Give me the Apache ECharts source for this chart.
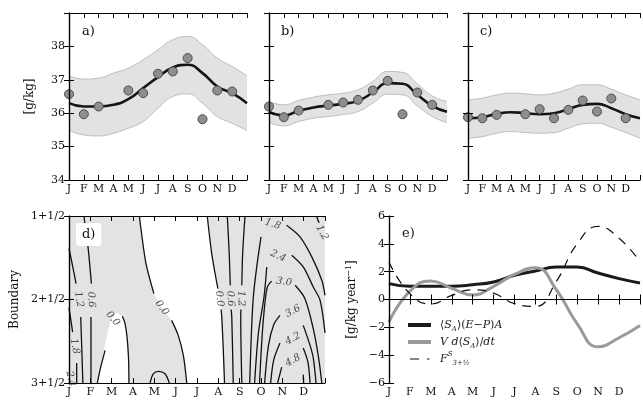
<!DOCTYPE html>
<html>
<head>
<meta charset="utf-8">
<script src="https://cdn.jsdelivr.net/npm/echarts@6/dist/echarts.min.js"></script>
<style>
  html, body { margin: 0; background: #fff; }
  #chart { width: 643px; height: 400px; }
</style>
</head>
<body>
<div id="chart"></div>
<script>
const F = 'DejaVu Serif';

// month letters and positions
const months = ['J', 'F', 'M', 'A', 'M', 'J', 'J', 'A', 'S', 'O', 'N', 'D'];
const knots = [0, 1, 2, 3, 4, 5, 6, 7, 8, 9, 10, 11, 12];
const obsMonths = [0, 1, 2, 4, 5, 6, 7, 8, 9, 10, 11];

// a) b) c) salinity [g/kg]
const aObs = [36.57, 35.97, 36.2, 36.68, 36.6, 37.18, 37.25, 37.65, 35.82, 36.68, 36.65];
const aFit = [36.3, 36.2, 36.2, 36.25, 36.42, 36.75, 37.08, 37.37, 37.45, 37.2, 36.8, 36.6, 36.3];
const aUp  = [37.12, 37.02, 37.05, 37.2, 37.35, 37.6, 37.9, 38.2, 38.3, 38.05, 37.65, 37.4, 37.12];
const aLo  = [35.48, 35.35, 35.32, 35.4, 35.55, 35.75, 36.15, 36.5, 36.58, 36.3, 35.9, 35.7, 35.48];

const bObs = [36.2, 35.88, 36.08, 36.25, 36.32, 36.4, 36.68, 36.97, 35.97, 36.62, 36.25];
const bFit = [36.04, 35.93, 36.07, 36.17, 36.23, 36.28, 36.37, 36.62, 36.9, 36.88, 36.55, 36.22, 36.04];
const bUp  = [36.35, 36.25, 36.38, 36.48, 36.55, 36.6, 36.7, 36.95, 37.25, 37.22, 36.88, 36.52, 36.35];
const bLo  = [35.72, 35.62, 35.75, 35.85, 35.9, 35.96, 36.05, 36.3, 36.57, 36.55, 36.22, 35.9, 35.72];

const cObs = [35.88, 35.85, 35.95, 35.97, 36.12, 35.85, 36.1, 36.38, 36.05, 36.44, 35.85];
const cFit = [35.85, 35.88, 35.98, 36.03, 36.0, 35.97, 36.0, 36.12, 36.25, 36.28, 36.15, 35.97, 35.85];
const cUp  = [36.4, 36.45, 36.55, 36.6, 36.58, 36.55, 36.6, 36.72, 36.85, 36.85, 36.72, 36.55, 36.4];
const cLo  = [35.25, 35.3, 35.4, 35.45, 35.42, 35.4, 35.42, 35.55, 35.68, 35.7, 35.58, 35.42, 35.25];

// d) contours, points are [month, boundary]
const bndTicks = {1.5: '1+1/2', 2.5: '2+1/2', 3.5: '3+1/2'};
const negRegions = [
  [[3.3, 1.5], [3.38, 1.67], [3.61, 2.07], [3.98, 2.43], [4.35, 2.6], [4.81, 2.75], [5.12, 2.93],
   [5.36, 3.17], [5.52, 3.5], [7.29, 3.5], [7.23, 3.09], [7.16, 2.71], [7.05, 2.47], [6.92, 2.29],
   [6.69, 1.95], [6.48, 1.5]],
  [[1.33, 3.5], [1.42, 3.4], [1.61, 3.13], [1.92, 2.77], [2.1, 2.69], [2.24, 2.66], [2.47, 2.7],
   [2.6, 2.76], [2.7, 2.89], [2.78, 3.2], [2.81, 3.5]]
];
const contourSegs = [
  // 0.0
  [[3.3, 1.5], [3.38, 1.67], [3.61, 2.07], [3.98, 2.43]],
  [[4.81, 2.75], [5.12, 2.93], [5.36, 3.17], [5.52, 3.5]],
  [[6.48, 1.5], [6.69, 1.95], [6.92, 2.29], [6.98, 2.37]],
  [[7.13, 2.62], [7.16, 2.71], [7.23, 3.09], [7.29, 3.5]],
  [[1.33, 3.5], [1.45, 3.35], [1.69, 3.11]],
  [[2.5, 2.7], [2.62, 2.78], [2.72, 2.95], [2.79, 3.2], [2.81, 3.5]],
  // -0.6
  [[3.8, 3.5], [3.95, 3.39], [4.19, 3.36], [4.5, 3.39], [4.7, 3.5]],
  // 0.6
  [[0.7, 1.5], [0.8, 1.7], [0.9, 1.89], [1.05, 2.31]],
  [[1.03, 2.71], [1.03, 3.5]],
  [[7.42, 1.5], [7.51, 1.95], [7.56, 2.33]],
  [[7.6, 2.62], [7.63, 2.71], [7.7, 3.5]],
  // 1.2
  [[0, 1.89], [0.17, 2.1], [0.33, 2.31]],
  [[0.55, 2.71], [0.6, 3.1], [0.65, 3.5]],
  [[8.25, 1.5], [8.14, 1.95], [8.1, 2.33]],
  [[8.06, 2.62], [8.05, 2.71], [8.1, 3.5]],
  [[11.6, 1.5], [11.72, 1.58]],
  // 1.8
  [[0, 2.6], [0.17, 2.89]],
  [[0.36, 3.26], [0.36, 3.5]],
  [[8.47, 3.5], [8.55, 2.9], [8.64, 2.47], [8.8, 2.11], [9.0, 1.75]],
  [[10.2, 1.61], [10.83, 1.75], [11.38, 1.99], [11.85, 2.27], [12, 2.45]],
  // 2.4
  [[8.7, 3.5], [8.88, 2.9], [9.14, 2.47], [9.27, 2.11]],
  [[10.44, 1.97], [10.98, 2.11], [11.45, 2.35], [11.77, 2.51], [12, 2.9]],
  // 3.0
  [[8.93, 3.5], [9.05, 2.95], [9.18, 2.55], [9.3, 2.35], [9.5, 2.28]],
  [[10.6, 2.33], [11.06, 2.49], [11.45, 2.85], [11.7, 3.2], [11.85, 3.5]],
  // 3.6
  [[9.17, 3.5], [9.35, 3.05], [9.6, 2.8], [9.89, 2.69]],
  [[10.98, 2.81], [11.3, 3.05], [11.45, 3.2], [11.58, 3.5]],
  // 4.2
  [[9.45, 3.5], [9.6, 3.22], [9.89, 3.02]],
  [[10.98, 3.08], [11.2, 3.25], [11.3, 3.5]],
  // 4.8
  [[9.78, 3.5], [9.97, 3.31]],
  [[10.98, 3.4], [11.0, 3.5]]
];
const contourLabels = [
  ['0.0', 4.35, 2.6, -53], ['0.0', 2.05, 2.73, -50], ['0.0', 7.05, 2.49, -85],
  ['0.6', 7.57, 2.49, -88], ['1.2', 8.07, 2.49, -88], ['1.2', 0.46, 2.5, -80],
  ['0.6', 1.04, 2.5, -88], ['1.8', 0.27, 3.06, -80], ['2.4', 0.07, 3.45, -80],
  ['1.8', 9.55, 1.6, -18], ['2.4', 9.8, 1.98, -25], ['3.0', 10.08, 2.29, -8],
  ['3.6', 10.5, 2.64, 28], ['4.2', 10.5, 2.97, 28], ['4.8', 10.5, 3.23, 28],
  ['1.2', 11.86, 1.7, -62]
];

// e) budget terms [g/kg year^-1]
const eSeaFlux = [1.14, 0.95, 0.95, 0.95, 1.06, 1.26, 1.74, 2.05, 2.33, 2.33, 1.9, 1.5, 1.19];
const eStorage = [-1.62, 0.6, 1.33, 0.8, 0.33, 0.95, 1.8, 2.28, 0.7, -1.75, -3.4, -2.75, -1.86];
const eBoundary = [2.7, 0.42, -0.32, 0.3, 0.7, 0.46, -0.3, -0.5, 1.3, 4.0, 5.25, 4.4, 2.7];

const pairs = (xs, ys) => xs.map((x, i) => [x, ys[i]]);

const grids = [
  {left: 69, top: 13, width: 178, height: 167},
  {left: 269, top: 13, width: 178, height: 167},
  {left: 468, top: 13, width: 178, height: 167},
  {left: 69, top: 216, width: 256, height: 167, show: true, backgroundColor: '#e3e3e3', borderWidth: 0},
  {left: 389, top: 216, width: 258, height: 167}
];

const lbl = {fontFamily: F, fontSize: 11, color: '#111'};
const tick = {inside: true, length: 5, lineStyle: {color: '#000', width: 1}};
const line = {show: true, lineStyle: {color: '#000', width: 1.2}};

function xAxis(g, pos) {
  return {
    type: 'value', gridIndex: g, position: pos, min: 0, max: 12, interval: 1, z: 10,
    axisLine: line, axisTick: tick, splitLine: {show: false},
    axisLabel: Object.assign({show: pos === 'bottom', margin: 4, formatter: v => months[v] || ''}, lbl)
  };
}
function yAxis(g, pos, min, max, step, fmt, extra) {
  return Object.assign({
    type: 'value', gridIndex: g, position: pos, min, max, interval: step, z: 10,
    axisLine: line, axisTick: tick, splitLine: {show: false},
    axisLabel: Object.assign({show: !!fmt, margin: 4, formatter: fmt}, lbl)
  }, extra || {});
}

const xAxes = [0, 1, 2, 3, 4].map(g => xAxis(g, 'bottom')).concat([0, 1, 2, 3, 4].map(g => xAxis(g, 'top')));
const nameStyle = {fontFamily: F, fontSize: 12, color: '#111'};
const yAxes = [
  yAxis(0, 'left', 34, 39, 1, v => v === 39 ? '' : String(v),
    {name: '[g/kg]', nameLocation: 'middle', nameGap: 33, nameRotate: 90, nameTextStyle: nameStyle}),
  yAxis(1, 'left', 34, 39, 1, null),
  yAxis(2, 'left', 34, 39, 1, null),
  yAxis(3, 'left', 1.5, 3.5, 1, v => bndTicks[v] || '',
    {inverse: true, name: 'Boundary', nameLocation: 'middle', nameGap: 48, nameRotate: 90, nameTextStyle: nameStyle}),
  yAxis(4, 'left', -6, 6, 2, v => String(v).replace('-', '\u2212'),
    {name: '[g/kg year{sp|\u22121}]', nameLocation: 'middle', nameGap: 30, nameRotate: 90,
     nameTextStyle: Object.assign({rich: {sp: {fontFamily: F, fontSize: 8, verticalAlign: 'top', padding: [0, 0, 6, 0]}}}, nameStyle)}),
  yAxis(0, 'right', 34, 39, 1, null),
  yAxis(1, 'right', 34, 39, 1, null),
  yAxis(2, 'right', 34, 39, 1, null),
  yAxis(3, 'right', 1.5, 3.5, 1, null, {inverse: true}),
  yAxis(4, 'right', -6, 6, 2, null)
];

const series = [];

// top panels: band = grey fill under the upper edge, white fill under the lower edge
[[aObs, aFit, aUp, aLo], [bObs, bFit, bUp, bLo], [cObs, cFit, cUp, cLo]].forEach((d, g) => {
  const [obs, fit, up, lo] = d;
  const edge = {color: '#bdbdbd', width: 1};
  series.push({
    type: 'line', xAxisIndex: g, yAxisIndex: g, smooth: 0.5, symbol: 'none', silent: true, z: 1,
    lineStyle: edge, areaStyle: {color: '#e2e2e2', opacity: 1, origin: 'start'}, data: pairs(knots, up)
  });
  series.push({
    type: 'line', xAxisIndex: g, yAxisIndex: g, smooth: 0.5, symbol: 'none', silent: true, z: 2,
    lineStyle: edge, areaStyle: {color: '#fff', opacity: 1, origin: 'start'}, data: pairs(knots, lo)
  });
  series.push({
    type: 'line', xAxisIndex: g, yAxisIndex: g, smooth: 0.5, symbol: 'none', silent: true, z: 4,
    lineStyle: {color: '#151515', width: 2.6}, data: pairs(knots, fit)
  });
  series.push({
    type: 'scatter', xAxisIndex: g, yAxisIndex: g, symbolSize: 9, silent: true, z: 5,
    itemStyle: {color: '#8e8e8e', borderColor: '#4d4d4d', borderWidth: 1, opacity: 1},
    data: pairs(obsMonths, obs)
  });
});

// d) negative regions in white, then contour lines and their labels
series.push({
  type: 'custom', xAxisIndex: 3, yAxisIndex: 3, data: [0], silent: true, z: 1,
  renderItem: (params, api) => ({
    type: 'group',
    children: negRegions.map(poly => ({
      type: 'polygon', shape: {points: poly.map(p => api.coord(p))}, style: {fill: '#fff'}
    }))
  })
});
contourSegs.forEach(seg => {
  series.push({
    type: 'line', xAxisIndex: 3, yAxisIndex: 3, data: seg, smooth: 0.3, symbol: 'none', z: 3,
    lineStyle: {color: '#111', width: 1.3}, silent: true
  });
});
series.push({
  type: 'scatter', xAxisIndex: 3, yAxisIndex: 3, symbolSize: 1, silent: true, z: 4,
  itemStyle: {color: 'transparent'},
  data: contourLabels.map(l => ({value: [l[1], l[2]], name: l[0], label: {rotate: l[3]}})),
  label: {show: true, position: 'inside', formatter: '{b}', fontFamily: F, fontSize: 10,
          fontStyle: 'italic', color: '#222'}
});

// e)
series.push({
  type: 'line', xAxisIndex: 4, yAxisIndex: 4, data: [[0, 0], [12, 0]], symbol: 'none',
  lineStyle: {color: '#000', width: 0.9}, silent: true
});
series.push({
  name: 'sea', type: 'line', xAxisIndex: 4, yAxisIndex: 4, smooth: 0.5, symbol: 'none',
  lineStyle: {color: '#1a1a1a', width: 3}, itemStyle: {color: '#1a1a1a'}, data: pairs(knots, eSeaFlux)
});
series.push({
  name: 'vds', type: 'line', xAxisIndex: 4, yAxisIndex: 4, smooth: 0.5, symbol: 'none',
  lineStyle: {color: '#9a9a9a', width: 3}, itemStyle: {color: '#9a9a9a'}, data: pairs(knots, eStorage)
});
series.push({
  name: 'flux', type: 'line', xAxisIndex: 4, yAxisIndex: 4, smooth: 0.5, symbol: 'none',
  lineStyle: {color: '#111', width: 1.2, type: [9, 7]}, itemStyle: {color: '#111'}, data: pairs(knots, eBoundary)
});

const legendText = {
  sea: '\u27E8{i|S}{sb|A}\u27E9({i|E}\u2212{i|P}){i|A}',
  vds: '{i|V d}\u27E8{i|S}{sb|A}\u27E9/{i|dt}',
  flux: '{i|F}{sp|S}{sb|3+\u00BD}'
};
// dash + dot sample, with tiny corner marks so the icon keeps its 23x4 box
const dashIcon = 'path://M0,0h0.01v0.01h-0.01zM23,4h0.01v0.01h-0.01zM2,1.4h9v1.2h-9zM19,1.4h2.5v1.2h-2.5z';

const panelTitle = (text, left, top, extra) => Object.assign({
  text, left, top, padding: 0,
  textStyle: {fontFamily: F, fontSize: 13, fontWeight: 'normal', color: '#111'}
}, extra || {});

const chart = echarts.init(document.getElementById('chart'), null, {renderer: 'canvas'});
chart.setOption({
  animation: false,
  backgroundColor: '#fff',
  title: [
    panelTitle('a)', 82, 25),
    panelTitle('b)', 281, 25),
    panelTitle('c)', 480, 25),
    panelTitle('d)', 76, 223, {padding: [5, 6, 5, 6], backgroundColor: '#fff', borderRadius: 3}),
    panelTitle('e)', 402, 227)
  ],
  legend: {
    data: [
      {name: 'sea', icon: 'rect'},
      {name: 'vds', icon: 'rect'},
      {name: 'flux', icon: dashIcon}
    ],
    left: 403, top: 312, orient: 'vertical', itemWidth: 23, itemHeight: 4, itemGap: 1,
    selectedMode: false,
    formatter: n => legendText[n],
    textStyle: {
      fontFamily: F, fontSize: 11, color: '#222', padding: [0, 0, 0, 4], lineHeight: 16,
      rich: {
        i: {fontFamily: F, fontStyle: 'italic', fontSize: 11},
        sb: {fontFamily: F, fontStyle: 'italic', fontSize: 7, verticalAlign: 'bottom'},
        sp: {fontFamily: F, fontStyle: 'italic', fontSize: 7, verticalAlign: 'top'}
      }
    }
  },
  grid: grids,
  xAxis: xAxes,
  yAxis: yAxes,
  series
});
</script>
</body>
</html>
